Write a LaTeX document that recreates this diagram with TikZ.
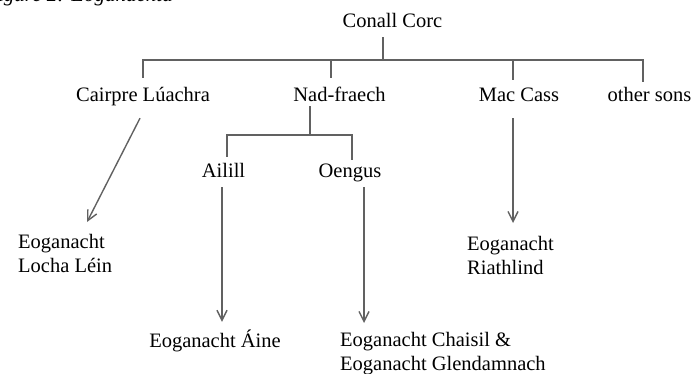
\documentclass[tikz,border=0pt]{standalone}
\usepackage{fontspec}
\setmainfont{Liberation Serif}
\usetikzlibrary{arrows.meta}
\usetikzlibrary{calc}
\definecolor{linegray}{rgb}{0.38, 0.38, 0.38}
\tikzset{person/.style = {inner sep=0, text height=14pt, text depth=4pt, anchor=base,
                          font=\fontsize{20.5}{25}\selectfont},
         twoline/.style = {inner sep=0, anchor=north west, align=left,
                           font=\fontsize{20.5}{24}\selectfont},
         branch/.style = {draw=linegray, line width=1.4pt},
         descent/.style = {branch, -{Straight Barb[length=10pt, width=10pt]}}}

\begin{document}
\begin{tikzpicture}[x=1pt, y=-1pt]
    \useasboundingbox (0, 0) rectangle (695, 374);
    \node [anchor=base east, inner sep=0, font=\fontsize{21}{25}\selectfont\itshape]
        (caption) at (173, 2) {Figure 2: Eoganachta};

    \node [person] (cc) at (392.5, 28) {Conall Corc};
    \node [person] (cl) at (143, 102) {Cairpre Lúachra};
    \node [person] (nf) at (339.5, 102) {Nad-fraech};
    \node [person] (mc) at (519, 102) {Mac Cass};
    \node [person] (os) at (649.5, 102) {other sons};
    \node [person] (ai) at (223.5, 177) {Ailill};
    \node [person] (oe) at (350, 177) {Oengus};
    \node [person] (ea) at (215, 347) {Eoganacht Áine};
    \node [twoline] (ll) at (18, 234) {Eoganacht\\Locha Léin};
    \node [twoline] (er) at (467, 236) {Eoganacht\\Riathlind};
    \node [twoline] (ec) at (340, 332) {Eoganacht Chaisil \&\\Eoganacht Glendamnach};

    \coordinate (bar) at (383, 60);
    \coordinate (fork) at (310, 135);

    % sons of Conall Corc
    \draw [branch] ([xshift=-9.5pt, yshift=-5pt]cc.south) -- (bar);
    \draw [branch] ([yshift=10pt]cl.north) |- (bar) -| ([xshift=-6.5pt, yshift=6pt]os.north);
    \draw [branch] ([xshift=-8.5pt, yshift=10pt]nf.north) -- ([xshift=-8.5pt]nf.north |- bar);
    \draw [branch] ([xshift=-6pt, yshift=8pt]mc.north) -- ([xshift=-6pt]mc.north |- bar);

    % sons of Nad-fraech
    \draw [branch] (fork |- nf.south) -- (fork);
    \draw [branch] ([xshift=3.5pt, yshift=6pt]ai.north) |- (fork) -| ([xshift=2pt, yshift=3pt]oe.north);

    \draw [descent] ([xshift=-3pt, yshift=-12pt]cl.south) -- ([xshift=69pt, yshift=12pt]ll.north west);
    \draw [descent] ([xshift=-1.5pt, yshift=-6pt]ai.south) -- ([xshift=7pt, yshift=11pt]ea.north);
    \draw [descent] ([xshift=14pt, yshift=-6pt]oe.south) -- ([xshift=24pt, yshift=9pt]ec.north west);
    \draw [descent] ([xshift=-6pt, yshift=-12pt]mc.south) -- ([xshift=46pt, yshift=13pt]er.north west);
\end{tikzpicture}
\end{document}
